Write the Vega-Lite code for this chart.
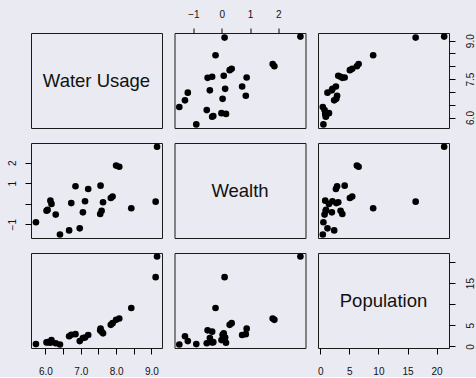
{
  "$schema": "https://vega.github.io/schema/vega-lite/v6.json",
  "background": "#EAEAF2",
  "padding": {"left": 6, "top": 8, "right": 0, "bottom": 0},
  "config": {
    "view": {"stroke": "#1a1a1a", "strokeWidth": 1, "fill": null},
    "axis": {"domain": false, "grid": false, "tickColor": "#000", "tickSize": 6, "tickWidth": 1, "labelFont": "Liberation Sans", "labelFontSize": 10, "labelColor": "#111", "title": null, "labelOverlap": false, "labelFlush": false, "labelBound": false},
    "point": {"filled": true, "color": "#000", "size": 44, "opacity": 1},
    "text": {"font": "Liberation Sans", "fontSize": 18.5, "color": "#111"}
  },
  "datasets": {
    "d": [
      {"water": 5.73, "wealth": -0.90, "pop": 0.55},
      {"water": 6.03, "wealth": -0.34, "pop": 0.95},
      {"water": 6.06, "wealth": -0.30, "pop": 1.0},
      {"water": 6.14, "wealth": 0.15, "pop": 0.86},
      {"water": 6.17, "wealth": -0.01, "pop": 1.5},
      {"water": 6.29, "wealth": -0.53, "pop": 0.75},
      {"water": 6.41, "wealth": -1.50, "pop": 0.45},
      {"water": 6.67, "wealth": -1.30, "pop": 2.4},
      {"water": 6.73, "wealth": 0.03, "pop": 2.76},
      {"water": 6.85, "wealth": 0.85, "pop": 2.9},
      {"water": 6.97, "wealth": -1.20, "pop": 1.25},
      {"water": 7.06, "wealth": -0.42, "pop": 2.0},
      {"water": 7.12, "wealth": 0.12, "pop": 2.1},
      {"water": 7.21, "wealth": 0.72, "pop": 2.7},
      {"water": 7.55, "wealth": -0.50, "pop": 3.8},
      {"water": 7.56, "wealth": 0.88, "pop": 4.2},
      {"water": 7.59, "wealth": -0.34, "pop": 3.5},
      {"water": 7.63, "wealth": 0.07, "pop": 3.1},
      {"water": 7.85, "wealth": 0.28, "pop": 5.1},
      {"water": 7.90, "wealth": 0.35, "pop": 5.5},
      {"water": 8.00, "wealth": 1.86, "pop": 6.3},
      {"water": 8.09, "wealth": 1.80, "pop": 6.6},
      {"water": 8.43, "wealth": -0.22, "pop": 9.1},
      {"water": 9.12, "wealth": 0.10, "pop": 16.4},
      {"water": 9.16, "wealth": 2.78, "pop": 21.3}
    ]
  },
  "columns": 3,
  "spacing": {"row": 15, "column": 12.5},
  "bounds": "flush",
  "concat": [
    {
      "width": 131, "height": 95,
      "data": {"values": [{"label": "Water Usage"}]},
      "mark": "text",
      "encoding": {
        "text": {"field": "label"},
        "x": {"datum": 7.445, "type": "quantitative", "scale": {"domain": [5.59, 9.30], "nice": false, "zero": false}, "axis": null},
        "y": {"datum": 7.445, "type": "quantitative", "scale": {"domain": [5.59, 9.30], "nice": false, "zero": false}, "axis": null}
      }
    },
    {
      "width": 131, "height": 95,
      "data": {"name": "d"},
      "mark": "point",
      "encoding": {
        "x": {"field": "wealth", "type": "quantitative", "scale": {"domain": [-1.67, 2.96], "nice": false, "zero": false},
              "axis": {"orient": "top", "values": [-1, 0, 1, 2], "tickSize": 5, "labelPadding": 9}},
        "y": {"field": "water", "type": "quantitative", "scale": {"domain": [5.59, 9.30], "nice": false, "zero": false}, "axis": null}
      }
    },
    {
      "width": 131, "height": 95,
      "data": {"name": "d"},
      "mark": "point",
      "encoding": {
        "x": {"field": "pop", "type": "quantitative", "scale": {"domain": [-0.38, 22.13], "nice": false, "zero": false}, "axis": null},
        "y": {"field": "water", "type": "quantitative", "scale": {"domain": [5.59, 9.30], "nice": false, "zero": false},
              "axis": {"orient": "right", "values": [6, 6.5, 7, 7.5, 8, 8.5, 9], "labelAngle": -90, "labelPadding": 10,
                       "labelExpr": "(datum.value === 6 || datum.value === 7.5 || datum.value === 9) ? format(datum.value, '.1f') : ''"}}
      }
    },
    {
      "width": 131, "height": 95,
      "data": {"name": "d"},
      "mark": "point",
      "encoding": {
        "x": {"field": "water", "type": "quantitative", "scale": {"domain": [5.59, 9.30], "nice": false, "zero": false}, "axis": null},
        "y": {"field": "wealth", "type": "quantitative", "scale": {"domain": [-1.67, 2.96], "nice": false, "zero": false},
              "axis": {"orient": "left", "values": [-1, 0, 1, 2], "labelAngle": -90, "labelPadding": 8,
                       "labelExpr": "datum.value === 0 ? '' : datum.label"}}
      }
    },
    {
      "width": 131, "height": 95,
      "data": {"values": [{"label": "Wealth"}]},
      "mark": "text",
      "encoding": {
        "text": {"field": "label"},
        "x": {"datum": 0.645, "type": "quantitative", "scale": {"domain": [-1.67, 2.96], "nice": false, "zero": false}, "axis": null},
        "y": {"datum": 0.645, "type": "quantitative", "scale": {"domain": [-1.67, 2.96], "nice": false, "zero": false}, "axis": null}
      }
    },
    {
      "width": 131, "height": 95,
      "data": {"name": "d"},
      "mark": "point",
      "encoding": {
        "x": {"field": "pop", "type": "quantitative", "scale": {"domain": [-0.38, 22.13], "nice": false, "zero": false}, "axis": null},
        "y": {"field": "wealth", "type": "quantitative", "scale": {"domain": [-1.67, 2.96], "nice": false, "zero": false}, "axis": null}
      }
    },
    {
      "width": 131, "height": 95,
      "data": {"name": "d"},
      "mark": "point",
      "encoding": {
        "x": {"field": "water", "type": "quantitative", "scale": {"domain": [5.59, 9.30], "nice": false, "zero": false},
              "axis": {"orient": "bottom", "values": [6, 6.5, 7, 7.5, 8, 8.5, 9], "labelPadding": 12,
                       "labelExpr": "datum.value % 1 === 0 ? format(datum.value, '.1f') : ''"}},
        "y": {"field": "pop", "type": "quantitative", "scale": {"domain": [-0.38, 22.13], "nice": false, "zero": false}, "axis": null}
      }
    },
    {
      "width": 131, "height": 95,
      "data": {"name": "d"},
      "mark": "point",
      "encoding": {
        "x": {"field": "wealth", "type": "quantitative", "scale": {"domain": [-1.67, 2.96], "nice": false, "zero": false}, "axis": null},
        "y": {"field": "pop", "type": "quantitative", "scale": {"domain": [-0.38, 22.13], "nice": false, "zero": false}, "axis": null}
      }
    },
    {
      "width": 131, "height": 95,
      "data": {"values": [{"label": "Population"}]},
      "mark": "text",
      "encoding": {
        "text": {"field": "label"},
        "x": {"datum": 10.875, "type": "quantitative", "scale": {"domain": [-0.38, 22.13], "nice": false, "zero": false},
              "axis": {"orient": "bottom", "values": [0, 5, 10, 15, 20], "labelPadding": 12}},
        "y": {"datum": 10.875, "type": "quantitative", "scale": {"domain": [-0.38, 22.13], "nice": false, "zero": false},
              "axis": {"orient": "right", "values": [0, 5, 10, 15, 20], "labelAngle": -90, "labelPadding": 10,
                       "labelExpr": "(datum.value === 10 || datum.value === 20) ? '' : datum.label"}}
      }
    }
  ]
}
